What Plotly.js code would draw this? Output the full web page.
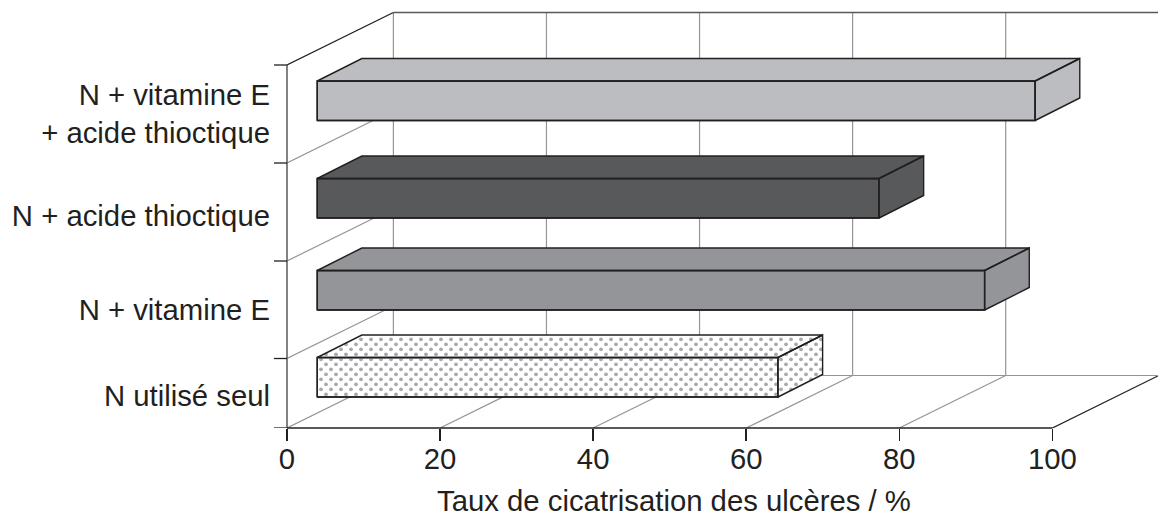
<!DOCTYPE html>
<html><head><meta charset="utf-8">
<script src="https://cdn.plot.ly/plotly-3.0.1.min.js"></script>
<style>html,body{margin:0;padding:0;background:#fff;overflow:hidden;height:517px}</style></head>
<body><div id="chart" style="width:1158px;height:525px"></div>
<script>
// Data
const categories = ["N utilisé seul", "N + vitamine E", "N + acide thioctique", "N + vitamine E<br>+ acide thioctique"];
const healingRate = [60.2, 87.2, 73.4, 93.8];
const xTicks = [0, 20, 40, 60, 80, 100];
const barColors = ["#ffffff", "#939598", "#58595b", "#bcbdc0"];

// Scene geometry, in axis units (y unit = 1 px above the floor line)
const FLOOR = 428, XMAX = 113.8, PXU = 871 / 113.8;
const barStart = 3.95;
const barLow = [31, 118, 210, 307.5];
const barHeight = 39.5;
const labelY = [32, 118, 212, 314];
const tickY = [0, 69.5, 167, 265, 363];
const wallDx = 13.9, wallDy = 52.5;
const barDx = 5.83, barDy = 22.5;
const INK = "#231f20", GRID = "#939598", AXIS = "#58595b", DOT = "#a7a9ac";
const FONT = 29.3;

const shapes = [];
function seg(x0, y0, x1, y1, color, width) {
  shapes.push({type: "line", xref: "x", yref: "y", layer: "below", x0, y0, x1, y1, line: {color, width}});
}
// back wall verticals and floor receding lines
xTicks.forEach(t => {
  if (t < 100) seg(t + wallDx, wallDy, t + wallDx, 363 + wallDy, GRID, 1.2);
  if (t < 100) seg(t, 0, t + wallDx, wallDy, GRID, 1.2);
});
seg(100, 0, 100 + wallDx, wallDy, INK, 1.3);
seg(wallDx, wallDy, 100 + wallDx, wallDy, GRID, 1.2);
seg(wallDx, 363 + wallDy, 100 + wallDx, 363 + wallDy, AXIS, 1.3);
// left wall receding lines
tickY.slice(1, 4).forEach(y => seg(0, y, wallDx, y + wallDy, GRID, 1.2));
seg(0, 363, wallDx, 363 + wallDy, INK, 1.3);
// axis lines and left ticks sit on the plot edge, so they are tied to the paper on one side
const W = 871;
shapes.push({type: "line", xref: "paper", yref: "y", layer: "above", x0: 0, x1: 0, y0: 0, y1: 363, line: {color: AXIS, width: 1.5}});
tickY.forEach(y => shapes.push({type: "line", xref: "paper", yref: "y", layer: "above", x0: -13 / W, x1: 0, y0: y, y1: y, line: {color: INK, width: 1.3}}));
shapes.push({type: "line", xref: "x", yref: "paper", layer: "above", x0: 0, x1: 100, y0: 0, y1: 0, line: {color: INK, width: 1.5}});

const traces = [];
// front faces
traces.push({
  type: "bar", orientation: "h", showlegend: false, hoverinfo: "skip",
  x: healingRate, base: barStart, y: barLow.map(l => l + barHeight / 2), width: barHeight,
  marker: {color: barColors, line: {color: INK, width: 1.4}}
});
function faces(i) {
  const xa = barStart, xb = barStart + healingRate[i], lo = barLow[i], hi = lo + barHeight;
  return {
    front: {x: [xa, xb, xb, xa, xa], y: [lo, lo, hi, hi, lo]},
    top: {x: [xa, xb, xb + barDx, xa + barDx, xa], y: [hi, hi, hi + barDy, hi + barDy, hi]},
    side: {x: [xb, xb + barDx, xb + barDx, xb, xb], y: [lo, lo + barDy, hi + barDy, hi, lo]}
  };
}
// top and side faces: fill first
healingRate.forEach((v, i) => {
  const f = faces(i);
  [f.top, f.side].forEach(p => traces.push({
    type: "scatter", mode: "lines", x: p.x, y: p.y, fill: "toself", fillcolor: barColors[i],
    line: {color: barColors[i], width: 0}, showlegend: false, hoverinfo: "skip"
  }));
});
// stipple texture of the first bar (staggered screen lattice)
function inside(p, x, y) {
  let c = false;
  for (let a = 0, b = p.x.length - 1; a < p.x.length; b = a++) {
    if ((p.y[a] > y) !== (p.y[b] > y) && x < (p.x[b] - p.x[a]) * (y - p.y[a]) / (p.y[b] - p.y[a]) + p.x[a]) c = !c;
  }
  return c;
}
const f0 = faces(0), sx = [], sy = [];
for (let r = -10; r < 20; r++) {
  for (let k = -2; k < 60; k++) {
    const px = 321 + 10 * k + (((r % 2) + 2) % 2) * 5, py = 359.3 + 5 * r;
    const x = (px - 287) / PXU, y = FLOOR - py;
    if (inside(f0.front, x, y) || inside(f0.top, x, y) || inside(f0.side, x, y)) { sx.push(x); sy.push(y); }
  }
}
traces.push({
  type: "scatter", mode: "markers", x: sx, y: sy, showlegend: false, hoverinfo: "skip",
  marker: {color: DOT, size: 3.8, line: {width: 0}}
});
// outlines
healingRate.forEach((v, i) => {
  const f = faces(i);
  [f.front, f.top, f.side].forEach(p => traces.push({
    type: "scatter", mode: "lines", x: p.x, y: p.y, line: {color: INK, width: 1.4},
    showlegend: false, hoverinfo: "skip"
  }));
});
// empty trace that carries the title axis
traces.push({type: "scatter", mode: "lines", x: [null], y: [null], xaxis: "x2", showlegend: false, hoverinfo: "skip"});

const layout = {
  width: 1158, height: 525, margin: {l: 287, r: 0, t: 0, b: 97, pad: 0},
  paper_bgcolor: "#fff", plot_bgcolor: "rgba(0,0,0,0)", showlegend: false,
  font: {family: "Liberation Sans, Arial, sans-serif", size: FONT, color: INK},
  shapes,
  xaxis: {
    range: [0, XMAX], tickmode: "array", tickvals: xTicks, ticktext: xTicks.map(String),
    ticks: "outside", ticklen: 12, tickwidth: 1.5, tickcolor: INK, showgrid: false, zeroline: false, showline: false,
    tickfont: {size: FONT, color: INK}, ticklabelstandoff: -7
  },
  xaxis2: {
    domain: [0, 0.8886], range: [0, 100], anchor: "y", showticklabels: false, ticks: "", showgrid: false, zeroline: false, showline: false,
    title: {text: "Taux de cicatrisation des ulcères / %", font: {size: FONT, color: INK}, standoff: 62}
  },
  yaxis: {
    range: [0, FLOOR], tickmode: "array", tickvals: labelY, ticktext: categories,
    ticks: "", showgrid: false, zeroline: false, showline: false,
    ticklabelstandoff: 16, tickfont: {size: FONT, color: INK}, automargin: false
  }
};
Plotly.newPlot("chart", traces, layout, {displayModeBar: false, staticPlot: true});
</script></body></html>
